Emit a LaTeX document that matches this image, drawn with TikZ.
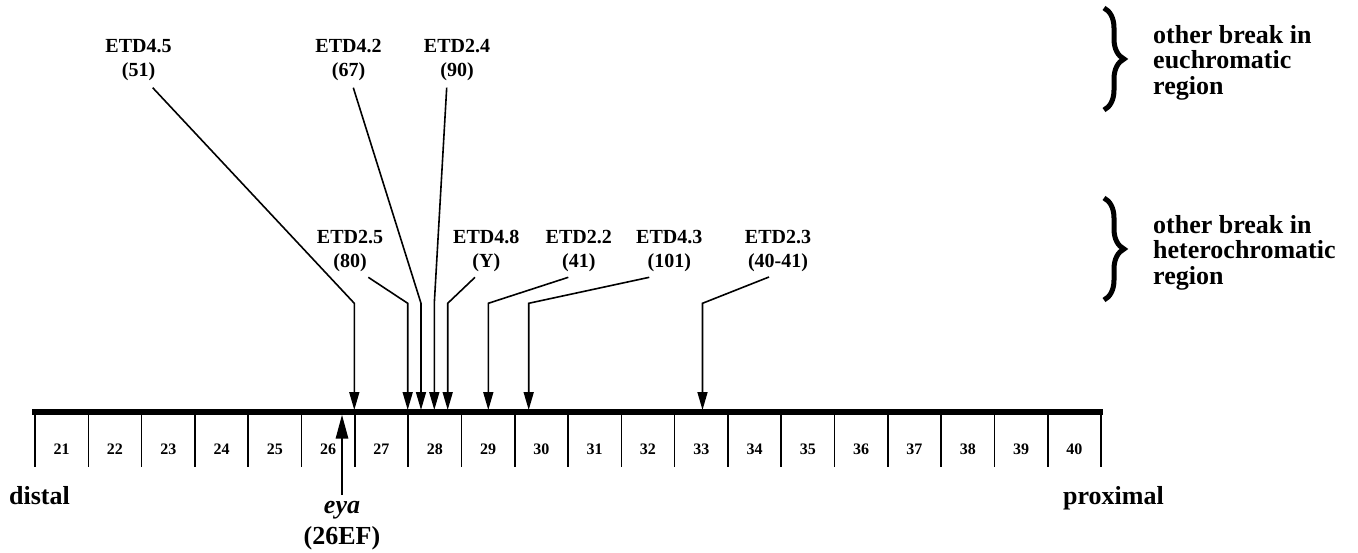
\documentclass[tikz,border=0pt]{standalone}
\usepackage{fontspec}
\setmainfont{Liberation Serif}
\usetikzlibrary{arrows.meta,decorations.pathreplacing}
\begin{document}
\begin{tikzpicture}[x=1pt,y=-1pt,
 lbl/.style={font=\fontsize{20}{24}\selectfont\bfseries, align=center, inner sep=0pt, anchor=north},
 side/.style={font=\fontsize{26}{25.5}\selectfont\bfseries, align=left, inner sep=0pt, anchor=north west},
 num/.style={font=\fontsize{16}{16}\selectfont\bfseries, inner sep=0pt},
 endlbl/.style={font=\fontsize{26}{26}\selectfont\bfseries, inner sep=0pt, anchor=base west},
 ptr/.style={line width=1.6pt, -{Triangle[length=18pt,width=10pt]}},
 axisline/.style={line width=5.3pt},
 tickline/.style={line width=1.6pt},
 bracestyle/.style={decorate, decoration={brace, amplitude=20pt}, line width=5pt}
]
\useasboundingbox (0,0) rectangle (1358,553);

% chromosome axis
\coordinate (axL) at (32,412);
\coordinate (axR) at (1103,412);
\draw[axisline] (axL) -- (axR);
\foreach \i in {0,...,20} \draw[tickline] ({35+53.3*\i},412) -- ({35+53.3*\i},467);
\foreach \n [count=\i from 0] in {21,...,40}
  \node[num] (c\n) at ({35+53.3*\i+26.65},449) {\n};

% labels
\node[lbl] (e45) at (138.5,39) {ETD4.5\\(51)};
\node[lbl] (e42) at (348.5,39) {ETD4.2\\(67)};
\node[lbl] (e24) at (457,39) {ETD2.4\\(90)};
\node[lbl] (e25) at (350,230.5) {ETD2.5\\(80)};
\node[lbl] (e48) at (486.3,230.5) {ETD4.8\\(Y)};
\node[lbl] (e22) at (578.8,230.5) {ETD2.2\\(41)};
\node[lbl] (e43) at (669.3,230.5) {ETD4.3\\(101)};
\node[lbl] (e23) at (778,230.5) {ETD2.3\\(40-41)};

% connector coordinates
\coordinate (s45) at (152.7,87.7); \coordinate (b45) at (354.3,303.3); \coordinate (t45) at (354.3,410);
\coordinate (s42) at (353.3,87.7); \coordinate (b42) at (421,303.3);   \coordinate (t42) at (421,410);
\coordinate (s24) at (446.7,87.7); \coordinate (b24) at (434.3,303.3); \coordinate (t24) at (434.3,410);
\coordinate (s25) at (368.3,277.3); \coordinate (b25) at (407.7,303.3); \coordinate (t25) at (407.7,410);
\coordinate (s48) at (475,277.3);   \coordinate (b48) at (447.7,303.3); \coordinate (t48) at (447.7,410);
\coordinate (s22) at (568.3,277.3); \coordinate (b22) at (488.3,303.3); \coordinate (t22) at (488.3,410);
\coordinate (s43) at (649.3,277.3); \coordinate (b43) at (528.7,303.3); \coordinate (t43) at (528.7,410);
\coordinate (s23) at (769,277);     \coordinate (b23) at (702.5,303.3); \coordinate (t23) at (702.5,410);

\foreach \k in {45,42,24,25,48,22,43,23}
  \draw[ptr] (s\k) -- (b\k) -- (t\k);

% eya
\coordinate (eyaS) at (342,495);
\coordinate (eyaT) at (342,414.5);
\draw[line width=2.7pt, -{Triangle[length=24pt,width=12pt]}] (eyaS) -- (eyaT);
\node[font=\fontsize{26}{26}\selectfont\bfseries\itshape, inner sep=0pt, anchor=base] (eya) at (342,513) {eya};
\node[font=\fontsize{26}{26}\selectfont\bfseries, inner sep=0pt, anchor=base] (eyaloc) at (342,544) {(26EF)};

% ends
\node[endlbl] (distal) at (9,504) {distal};
\node[endlbl] (prox) at (1063,504) {proximal};

% legend
\draw[bracestyle] (1104,8) -- (1104,110);
\draw[bracestyle] (1104,198) -- (1104,300);
\node[side] (euc) at (1153,25) {other break in\\euchromatic\\region};
\node[side] (het) at (1153,215) {other break in\\heterochromatic\\region};
\end{tikzpicture}
\end{document}
